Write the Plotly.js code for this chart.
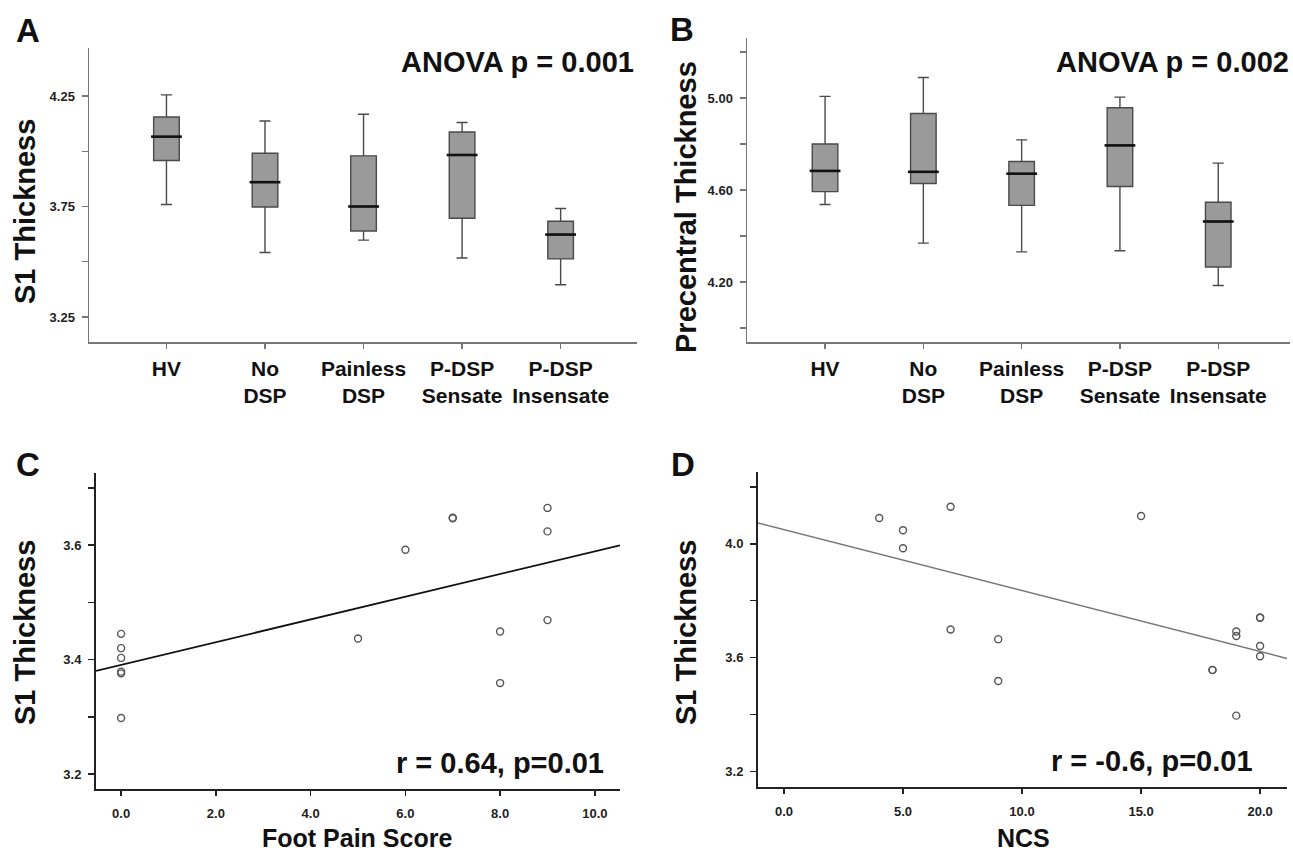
<!DOCTYPE html>
<html>
<head>
<meta charset="utf-8">
<script src="https://cdn.plot.ly/plotly-3.0.1.min.js"></script>
<style>html,body{margin:0;padding:0;background:#fff;}#chart{width:1293px;height:854px;}</style>
</head>
<body>
<div id="chart"></div>
<script>
// ---------- data ----------
const categories = ['HV', 'No DSP', 'Painless DSP', 'P-DSP Sensate', 'P-DSP Insensate'];
const categoryLabels = ['HV', 'No<br>DSP', 'Painless<br>DSP', 'P-DSP<br>Sensate', 'P-DSP<br>Insensate'];

// Panel A: S1 thickness boxes
const s1Upper  = [4.255, 4.137, 4.167, 4.130, 3.741];
const s1Q3     = [4.155, 3.991, 3.979, 4.087, 3.683];
const s1Median = [4.066, 3.860, 3.750, 3.983, 3.623];
const s1Q1     = [3.958, 3.748, 3.639, 3.697, 3.513];
const s1Lower  = [3.759, 3.542, 3.598, 3.517, 3.396];

// Panel B: Precentral thickness boxes
const preUpper  = [5.007, 5.089, 4.818, 5.004, 4.717];
const preQ3     = [4.800, 4.933, 4.724, 4.958, 4.547];
const preMedian = [4.683, 4.679, 4.671, 4.794, 4.463];
const preQ1     = [4.593, 4.628, 4.533, 4.615, 4.265];
const preLower  = [4.537, 4.369, 4.331, 4.336, 4.185];

// Panel C: Foot pain score vs S1 thickness
const painScore = [0, 0, 0, 0, 0, 0, 5, 6, 7, 7, 8, 8, 9, 9, 9];
const painS1    = [3.445, 3.420, 3.403, 3.379, 3.376, 3.298, 3.437, 3.592, 3.647, 3.648, 3.449, 3.359, 3.665, 3.624, 3.469];

// Panel D: NCS vs S1 thickness
const ncs   = [4, 5, 5, 7, 7, 9, 9, 15, 18, 18, 19, 19, 19, 20, 20, 20, 20];
const ncsS1 = [4.091, 4.048, 3.985, 4.131, 3.699, 3.665, 3.518, 4.098, 3.557, 3.556, 3.692, 3.676, 3.396, 3.740, 3.741, 3.641, 3.605];

// tick labels
const aTickVals = [3.25, 3.5, 3.75, 4.0, 4.25];
const aTickText = ['3.25', '', '3.75', '', '4.25'];
const bTickVals = [4.0, 4.2, 4.4, 4.6, 4.8, 5.0, 5.2];
const bTickText = ['', '4.20', '', '4.60', '', '5.00', ''];
const cTickVals = [3.2, 3.3, 3.4, 3.5, 3.6, 3.7];
const cTickText = ['3.2', '', '3.4', '', '3.6', ''];
const cXTickVals = [0, 2, 4, 6, 8, 10];
const cXTickText = ['0.0', '2.0', '4.0', '6.0', '8.0', '10.0'];
const dTickVals = [3.2, 3.4, 3.6, 3.8, 4.0, 4.2];
const dTickText = ['3.2', '', '3.6', '', '4.0', ''];
const dXTickVals = [0, 5, 10, 15, 20];
const dXTickText = ['0.0', '5.0', '10.0', '15.0', '20.0'];

// ---------- helpers ----------
const W = 1293, H = 854;
const FONT = '"Liberation Sans", Arial, Helvetica, sans-serif';
const px = v => v / W;
const py = v => 1 - v / H;

function fit(xs, ys) {
  const n = xs.length;
  const mx = xs.reduce((a, b) => a + b, 0) / n;
  const my = ys.reduce((a, b) => a + b, 0) / n;
  let sxy = 0, sxx = 0;
  for (let i = 0; i < n; i++) { sxy += (xs[i] - mx) * (ys[i] - my); sxx += (xs[i] - mx) ** 2; }
  const b = sxy / sxx;
  return { a: my - b * mx, b: b };
}

const cXRange = [-0.53, 10.53];
const dXRange = [-1.09, 21.13];
const fitC = fit(painScore, painS1);
const fitD = fit(ncs, ncsS1);

function boxTrace(xa, ya, q1, med, q3, lo, hi) {
  return {
    type: 'box', xaxis: xa, yaxis: ya, x: categories,
    q1: q1, median: med, q3: q3, lowerfence: lo, upperfence: hi,
    fillcolor: '#9a9a9a', line: { color: '#4a4a4a', width: 1.4 },
    width: 0.26, whiskerwidth: 0.43, boxpoints: false, hoverinfo: 'skip', showlegend: false
  };
}
function medianTrace(xa, ya, med) {
  return {
    type: 'scatter', mode: 'markers', xaxis: xa, yaxis: ya, x: categories, y: med,
    marker: { symbol: 'line-ew', size: 22, line: { width: 2.6, color: '#111' } },
    hoverinfo: 'skip', showlegend: false
  };
}

const pointMarker = { symbol: 'circle-open', size: 7, color: '#555', line: { width: 1.4, color: '#555' } };

const traces = [
  boxTrace('x', 'y', s1Q1, s1Median, s1Q3, s1Lower, s1Upper),
  medianTrace('x', 'y', s1Median),
  boxTrace('x2', 'y2', preQ1, preMedian, preQ3, preLower, preUpper),
  medianTrace('x2', 'y2', preMedian),
  {
    type: 'scatter', mode: 'markers', xaxis: 'x3', yaxis: 'y3', x: painScore, y: painS1,
    marker: pointMarker, hoverinfo: 'skip', showlegend: false
  },
  {
    type: 'scatter', mode: 'lines', xaxis: 'x3', yaxis: 'y3',
    x: cXRange, y: cXRange.map(v => fitC.a + fitC.b * v),
    line: { color: '#111', width: 1.8 }, hoverinfo: 'skip', showlegend: false
  },
  {
    type: 'scatter', mode: 'markers', xaxis: 'x4', yaxis: 'y4', x: ncs, y: ncsS1,
    marker: pointMarker, hoverinfo: 'skip', showlegend: false
  },
  {
    type: 'scatter', mode: 'lines', xaxis: 'x4', yaxis: 'y4',
    x: dXRange, y: dXRange.map(v => fitD.a + fitD.b * v),
    line: { color: '#777', width: 1.5 }, hoverinfo: 'skip', showlegend: false
  }
];

const tickFont = { family: FONT, size: 13, color: '#222', weight: 700 };
const catFont = { family: FONT, size: 21, color: '#111', weight: 700 };

function axisBase(color, width) {
  return {
    showgrid: false, zeroline: false, showline: true, linecolor: color, linewidth: width,
    ticks: 'outside', ticklen: 6, tickwidth: 1.3, tickcolor: color, fixedrange: true
  };
}

const layout = {
  width: W, height: H, margin: { l: 0, r: 0, t: 0, b: 0 },
  paper_bgcolor: '#fff', plot_bgcolor: 'rgba(0,0,0,0)', showlegend: false,
  font: { family: FONT },
  xaxis: Object.assign(axisBase('#777', 1.5), {
    domain: [px(89), px(637)], anchor: 'y', type: 'category', categoryorder: 'array', categoryarray: categories,
    range: [-0.786, 4.775], tickvals: categories, ticktext: categoryLabels, tickfont: catFont, ticklen: 5, ticklabelstandoff: 2
  }),
  yaxis: Object.assign(axisBase('#777', 1.5), {
    domain: [py(342), py(48)], anchor: 'x', range: [3.137, 4.467],
    tickvals: aTickVals, ticktext: aTickText, tickfont: tickFont, ticklabelstandoff: 4
  }),
  xaxis2: Object.assign(axisBase('#777', 1.5), {
    domain: [px(747), px(1290)], anchor: 'y2', type: 'category', categoryorder: 'array', categoryarray: categories,
    range: [-0.794, 4.73], tickvals: categories, ticktext: categoryLabels, tickfont: catFont, ticklen: 5, ticklabelstandoff: 2
  }),
  yaxis2: Object.assign(axisBase('#777', 1.5), {
    domain: [py(342), py(38)], anchor: 'x2', range: [3.939, 5.261],
    tickvals: bTickVals, ticktext: bTickText, tickfont: tickFont, ticklabelstandoff: 4
  }),
  xaxis3: Object.assign(axisBase('#222', 2), {
    domain: [px(96), px(620)], anchor: 'y3', range: cXRange,
    tickvals: cXTickVals, ticktext: cXTickText, tickfont: tickFont, ticklen: 5, ticklabelstandoff: 6
  }),
  yaxis3: Object.assign(axisBase('#222', 2), {
    domain: [py(789), py(473)], anchor: 'x3', range: [3.174, 3.726],
    tickvals: cTickVals, ticktext: cTickText, tickfont: tickFont, ticklabelstandoff: 4
  }),
  xaxis4: Object.assign(axisBase('#222', 2), {
    domain: [px(758), px(1287)], anchor: 'y4', range: dXRange,
    tickvals: dXTickVals, ticktext: dXTickText, tickfont: tickFont, ticklen: 5, ticklabelstandoff: 6
  }),
  yaxis4: Object.assign(axisBase('#222', 2), {
    domain: [py(787), py(472)], anchor: 'x4', range: [3.145, 4.253],
    tickvals: dTickVals, ticktext: dTickText, tickfont: tickFont, ticklabelstandoff: 4
  }),
  annotations: []
};

function ann(text, x, y, size, opts) {
  return Object.assign({
    text: text, xref: 'paper', yref: 'paper', x: px(x), y: py(y),
    xanchor: 'center', yanchor: 'middle', showarrow: false,
    font: { family: FONT, size: size, color: '#111', weight: 700 }
  }, opts || {});
}

layout.annotations.push(
  ann('A', 28, 30, 33), ann('B', 682, 29, 33), ann('C', 28, 464, 33), ann('D', 683, 464, 33),
  ann('ANOVA p = 0.001', 636, 62, 29, { xanchor: 'right' }),
  ann('ANOVA p = 0.002', 1291, 62, 29, { xanchor: 'right' }),
  ann('r = 0.64, p=0.01', 606, 763, 29, { xanchor: 'right' }),
  ann('r = -0.6, p=0.01', 1255, 761, 29, { xanchor: 'right' }),
  ann('S1 Thickness', 25, 212, 29, { textangle: -90 }),
  ann('Precentral Thickness', 686, 207, 29, { textangle: -90 }),
  ann('S1 Thickness', 25, 633, 29, { textangle: -90 }),
  ann('S1 Thickness', 686, 633, 29, { textangle: -90 }),
  ann('Foot Pain Score', 357, 852, 25, { yanchor: 'bottom', yshift: -1 }),
  ann('NCS', 1023, 852, 25, { yanchor: 'bottom', yshift: -1 })
);

// keep the bottom titles fully inside the picture
layout.annotations.forEach(a => { if (a.yanchor === 'bottom') { a.y = py(854); a.yshift = 0; } });

Plotly.newPlot('chart', traces, layout, { staticPlot: true, displayModeBar: false });
</script>
</body>
</html>
